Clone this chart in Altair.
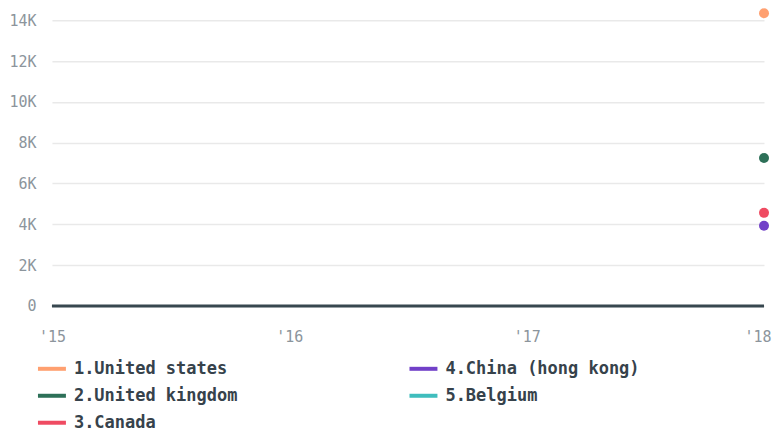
import altair as alt
import pandas as pd

countries = ["1.United states", "2.United kingdom", "3.Canada", "4.China (hong kong)", "5.Belgium"]
years = [2015, 2016, 2017, 2018]
united_states = [None, None, None, 14340]
united_kingdom = [None, None, None, 7250]
canada = [None, None, None, 4560]
china_hk = [None, None, None, 3930]
belgium = [None, None, None, None]
colors = ["#ffa070", "#2d7058", "#ef4b62", "#7140c8", "#3fbdbd"]
y_ticks = [0, 2000, 4000, 6000, 8000, 10000, 12000, 14000]

series = [united_states, united_kingdom, canada, china_hk, belgium]
rows = []
for name, vals in zip(countries, series):
    for yr, v in zip(years, vals):
        rows.append({"country": name, "year": yr, "value": v})
df = pd.DataFrame(rows)

font = "DejaVu Sans Mono"
cscale = alt.Scale(domain=countries, range=colors)

x = alt.X(
    "year:Q",
    scale=alt.Scale(domain=[2015, 2018], nice=False, zero=False),
    axis=alt.Axis(values=years, labelExpr="\"'\" + slice(toString(datum.value), 2)",
                  title=None, grid=False, domain=False, ticks=False, labelPadding=24,
                  labelFlush=False, labelFont=font, labelFontSize=15, labelColor="#8c959c",
                  labelAlign={"condition": {"test": "datum.value == 2018", "value": "right"}, "value": "center"},
                  labelOffset={"condition": {"test": "datum.value == 2018", "value": 7}, "value": 0}),
)
y = alt.Y(
    "value:Q",
    scale=alt.Scale(domain=[0, 14490], nice=False),
    axis=alt.Axis(values=y_ticks, labelExpr="datum.value == 0 ? '0' : (datum.value / 1000) + 'K'",
                  title=None, grid=True, gridColor="#e9e9e9", gridWidth=1.5, domain=False, ticks=False,
                  labelPadding=16, labelFont=font, labelFontSize=15, labelColor="#8c959c"),
)
color = alt.Color(
    "country:N",
    scale=cscale,
    legend=alt.Legend(title=None, orient="none", legendX=-16, legendY=343, columns=2,
                      columnPadding=164, rowPadding=3, symbolType="stroke", symbolSize=784,
                      symbolStrokeWidth=4, labelOffset=6, labelFont=font, labelFontSize=17,
                      labelFontWeight="bold", labelColor="#36424b", labelLimit=400),
)

base = alt.Chart(df)
lines = base.mark_line(strokeWidth=3).encode(x=x, y=y, color=color)
points = base.mark_circle(size=100, opacity=1).encode(
    x=x, y=y, color=alt.Color("country:N", scale=cscale, legend=None))
zero = alt.Chart(pd.DataFrame({"v": [0]})).mark_rule(color="#37474f", strokeWidth=3).encode(y="v:Q")

chart = alt.layer(lines, zero, points).properties(
    width=713, height=296,
    autosize=alt.AutoSizeParams(type="none"),
    padding={"left": 44, "top": 2, "right": 8, "bottom": 126},
).configure_view(stroke=None)

chart.save("out.html", embed_options={"renderer": "svg", "actions": False})
